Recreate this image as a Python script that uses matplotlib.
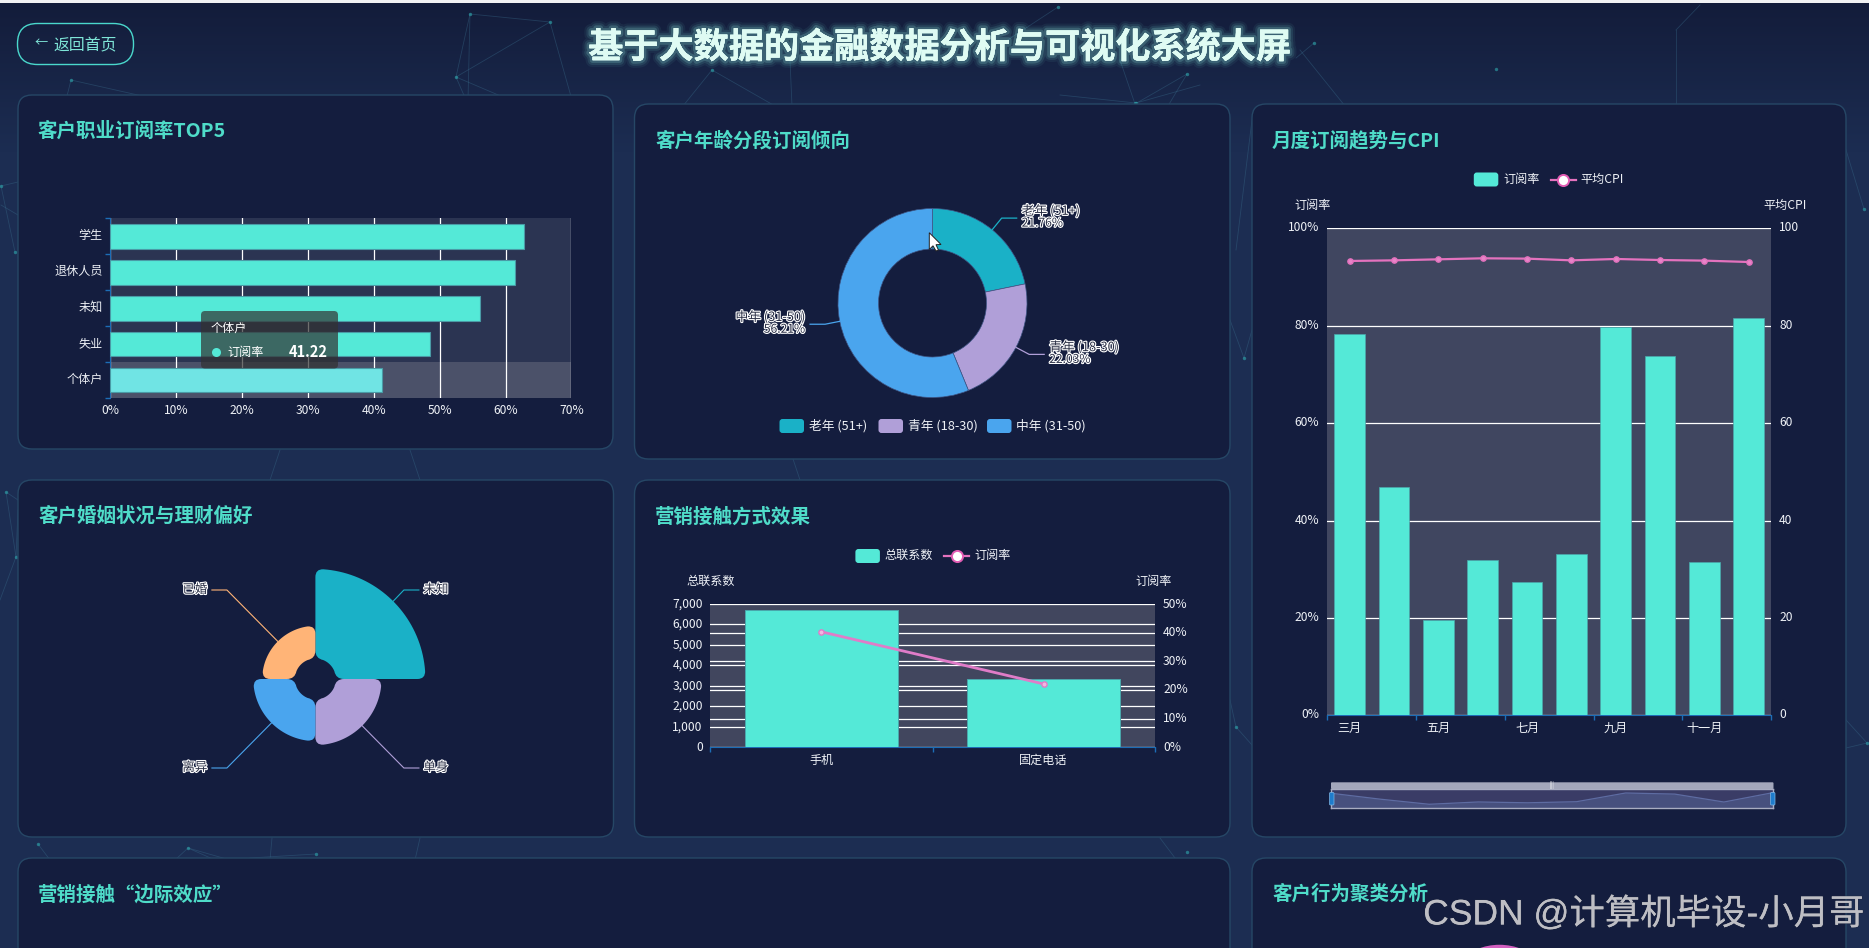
"""Finance big-screen dashboard, redrawn from a screenshot (pixel layout, y grows down)."""

import matplotlib

matplotlib.use("Agg")
import matplotlib.patheffects as pe
import matplotlib.pyplot as plt
import numpy as np
from matplotlib.patches import FancyBboxPatch, PathPatch, Polygon
from matplotlib.path import Path
from matplotlib.transforms import ScaledTranslation

plt.rcParams["font.family"] = ["Noto Sans CJK SC", "DejaVu Sans"]

W, H = 1869, 948

TEAL = "#54E9D7"
TITLE = "#4FDCC9"
PINK = "#E472BE"
AXIS_BLUE = "#1C6DB6"
TICK_TEXT = "#EEF1F6"
FS = 8.7

# job subscription rate
JOBS = ["学生", "退休人员", "未知", "失业", "个体户"]
JOB_RATE = [62.8, 61.5, 56.2, 48.5, 41.22]

# age donut
AGE_NAMES = ["老年 (51+)", "青年 (18-30)", "中年 (31-50)"]
AGE_SHARE = [21.76, 22.03, 56.21]
AGE_COLORS = ["#1AB1C7", "#B09FD8", "#4AA5EE"]

# marital rose
MARITAL = ["未知", "单身", "离异", "已婚"]
MARITAL_VALUE = [100, 51, 46.5, 36.5]
MARITAL_COLORS = ["#1AB1C7", "#B09FD8", "#4AA5EE", "#FFB477"]

# contact method
CONTACT = ["手机", "固定电话"]
CONTACT_TOTAL = [6690, 3320]
CONTACT_RATE = [40.3, 22.1]

# monthly trend
MONTHS = ["三月", "四月", "五月", "六月", "七月", "八月", "九月", "十月", "十一月", "十二月"]
MONTH_RATE = [78.3, 46.8, 19.5, 31.8, 27.4, 33.2, 79.7, 73.8, 31.5, 81.6]
MONTH_CPI = [93.29, 93.42, 93.63, 93.84, 93.77, 93.42, 93.70, 93.49, 93.36, 93.08]

# the one cluster bubble that shows above the bottom edge
CLUSTER_X = [41.6]
CLUSTER_Y = [56.5]

# backdrop network, (x0, y0, x1, y1) in screen pixels
NET_LINES = [
    (470, 14, 550, 22), (470, 14, 456, 77), (550, 22, 456, 77), (550, 22, 572, 100),
    (456, 77, 466, 100), (470, 14, 468, 100), (456, 77, 510, 100), (71, 80, 66, 100),
    (71, 80, 160, 100), (712, 70, 683, 106), (712, 70, 775, 106), (790, 60, 792, 106),
    (1187, 74, 1135, 104), (1187, 74, 1168, 106), (1300, 50, 1345, 106), (1135, 104, 1120, 60),
    (1314, 43, 1296, 58), (1058, 7, 1000, 45), (1676, 30, 1700, 5), (1676, 30, 1676, 106),
    (1, 186, 18, 182), (1, 186, 15, 252), (1, 205, 18, 215), (6, 492, 18, 500),
    (6, 492, 16, 557), (16, 557, 0, 600), (16, 557, 18, 510), (38, 844, 50, 860),
    (188, 848, 175, 860), (188, 848, 215, 860), (188, 848, 230, 860), (316, 854, 250, 858),
    (272, 838, 270, 860), (420, 838, 415, 860), (1160, 838, 1175, 858), (1846, 150, 1864, 209),
    (1846, 720, 1867, 743), (1846, 748, 1867, 743), (1244, 358, 1230, 320), (1244, 358, 1252, 330),
    (1236, 727, 1230, 700), (1236, 727, 1252, 745), (1136, 103, 1060, 95), (790, 450, 800, 480),
    (280, 450, 270, 480), (410, 450, 420, 480), (1136, 103, 1200, 85), (1252, 120, 1236, 250),
]
NET_NODES = [
    (470, 14), (550, 22), (456, 77), (712, 70), (1187, 74), (1135, 103), (1496, 69), (1314, 43),
    (1058, 7), (71, 80), (1, 186), (15, 252), (6, 492), (16, 557), (38, 844), (188, 848),
    (316, 854), (1864, 209), (1867, 743), (1244, 358), (1236, 727), (1187, 852), (1136, 103),
]

fig = plt.figure(figsize=(W / 100, H / 100), dpi=100)


def px_axes(x0, y0, x1, y1, zorder=2):
    ax = fig.add_axes([x0 / W, 1 - y1 / H, (x1 - x0) / W, (y1 - y0) / H], zorder=zorder)
    return ax


def screen_axes(zorder):
    ax = px_axes(0, 0, W, H, zorder)
    ax.set_xlim(0, W)
    ax.set_ylim(H, 0)
    ax.axis("off")
    ax.patch.set_alpha(0)
    return ax


def rounded(ax, x0, y0, x1, y1, radius, **kw):
    patch = FancyBboxPatch(
        (x0, y0), x1 - x0, y1 - y0,
        boxstyle=f"round,pad=0,rounding_size={radius}", **kw,
    )
    ax.add_patch(patch)
    return patch


def lift_labels(ax, pixels=2):
    # tick text sits a little above its gridline in the screenshot
    shift = ScaledTranslation(0, pixels / 100, fig.dpi_scale_trans)
    for label in ax.get_yticklabels():
        label.set_transform(label.get_transform() + shift)


back = screen_axes(0)
top_color = np.array([0x13, 0x1C, 0x3A]) / 255
low_color = np.array([0x1C, 0x2D, 0x52]) / 255
mix = np.clip(np.linspace(0, 1, H) / 0.16, 0, 1)[:, None]
back.imshow(
    (top_color * (1 - mix) + low_color * mix)[:, None, :],
    extent=(0, W, H, 0), aspect="auto", zorder=0,
)
back.set_xlim(0, W)
back.set_ylim(H, 0)
for x0, y0, x1, y1 in NET_LINES:
    back.plot([x0, x1], [y0, y1], color="#3A6F8E", lw=0.6, alpha=0.38, zorder=1)
back.scatter(*zip(*NET_NODES), s=6, color="#2FA9AE", alpha=0.6, lw=0, zorder=1)
back.fill_between([0, W], 0, 3.3, color="#F1F1F3", lw=0, zorder=1)

CARDS = [
    (18, 95, 613, 449), (634.5, 104, 1230, 459), (1252, 104, 1846, 837),
    (18, 480, 613.5, 837), (634.5, 480, 1230, 837), (18, 858, 1230, 980), (1252, 858, 1846, 980),
]
for card in CARDS:
    rounded(back, *card, 14, facecolor="#141D3E", edgecolor="#264766", lw=1, zorder=2)

over = screen_axes(10)


def card_title(x, y, text):
    over.text(x, y, text, color=TITLE, fontsize=14, fontweight="bold", va="center", ha="left")


def legend_swatch(x, y, text, color, size=FS):
    rounded(over, x, y - 7, x + 24.5, y + 7, 3, facecolor=color, edgecolor="none")
    over.text(x + 29.5, y - 0.5, text, color=TICK_TEXT, fontsize=size, va="center")


def legend_line(x, y, text):
    over.plot([x, x + 25], [y, y], color=PINK, lw=1.6)
    over.plot(x + 12.5, y, "o", ms=8, mfc="white", mec="#E25CB4", mew=1.4)
    over.text(x + 30, y - 1, text, color=TICK_TEXT, fontsize=FS, va="center")


def outlined(ax, x, y, text, ha, size=FS):
    ax.text(
        x, y, text, color="#2A2F45", fontsize=size, ha=ha, va="center",
        path_effects=[pe.withStroke(linewidth=1.6, foreground="white")],
    )


def style_axis(ax):
    ax.tick_params(which="both", colors=AXIS_BLUE, labelcolor=TICK_TEXT, labelsize=FS)
    ax.patch.set_alpha(1)
    for side in ("top", "left", "right", "bottom"):
        ax.spines[side].set_visible(False)


# page header
over.text(
    939.5, 47.5, "基于大数据的金融数据分析与可视化系统大屏",
    color="#DFFBF3", fontsize=25.3, fontweight="bold", ha="center", va="center",
    path_effects=[
        pe.withStroke(linewidth=10, foreground="#7FF5E5", alpha=0.06),
        pe.withStroke(linewidth=7, foreground="#7FF5E5", alpha=0.10),
        pe.withStroke(linewidth=4, foreground="#9FF8EC", alpha=0.18),
        pe.Normal(),
    ],
)
rounded(over, 17.5, 23.5, 133.5, 64.5, 20, facecolor="none", edgecolor="#4AD8CC", lw=1)
over.text(41, 44, "←", color="#7FE6D8", fontsize=9.5, ha="center", va="center")
over.text(54, 45, "返回首页", color="#7FE6D8", fontsize=11.4, va="center")

# job bars
card_title(37.5, 131, "客户职业订阅率TOP5")
ax = px_axes(110.2, 218.3, 571.4, 398)
style_axis(ax)
ax.set_facecolor("#2B3452")
ax.axhspan(3.5, 4.5, color="#4B5169", lw=0, zorder=0.5)
ax.barh(range(len(JOBS)), JOB_RATE, height=0.69, color=TEAL, edgecolor="#4A9BA6", lw=0.8, zorder=3)
ax.patches[-1].set_facecolor("#70E4E4")
ax.set_xlim(0, 70)
ax.set_ylim(4.5, -0.5)
ax.set_xticks(range(0, 71, 10), [f"{v}%" for v in range(0, 71, 10)])
ax.set_yticks(range(len(JOBS)), JOBS)
ax.set_yticks(np.arange(-0.5, 5), minor=True)
ax.tick_params(axis="y", which="major", length=0, pad=5.3)
ax.tick_params(axis="y", which="minor", length=3.6, width=1)
ax.tick_params(axis="x", length=0, pad=4.6)
ax.grid(axis="x", color="white", lw=0.9, zorder=1)
ax.set_axisbelow(True)
ax.spines["left"].set_visible(True)
ax.spines["left"].set_color(AXIS_BLUE)
lift_labels(ax)

rounded(over, 201, 311, 338, 368.5, 4, facecolor="#323232", alpha=0.7, edgecolor="none")
over.text(211, 328, JOBS[-1], color="white", fontsize=FS, va="center")
over.plot(216, 352, "o", ms=6.5, color=TEAL, mew=0)
over.text(227, 352, "订阅率", color="white", fontsize=FS, va="center")
over.text(328, 352, f"{JOB_RATE[-1]:.2f}", color="white", fontsize=10.5, fontweight="bold", ha="right", va="center")

# age donut, axes units are screen pixels around the centre
card_title(655, 140.5, "客户年龄分段订阅倾向")
CX, CY, R_OUT, R_IN = 932.5, 303, 94.5, 54
ax = px_axes(640, 150, 1225, 410, zorder=3)
ax.pie(
    AGE_SHARE, colors=AGE_COLORS, radius=R_OUT, startangle=90, counterclock=False,
    wedgeprops={"width": R_OUT - R_IN, "edgecolor": "#3E5484", "lw": 0.5},
)
ax.set_xlim(640 - CX, 1225 - CX)
ax.set_ylim(CY - 410, CY - 150)
ax.set_aspect("auto")
ax.axis("off")
start = 0
for name, share, color in zip(AGE_NAMES, AGE_SHARE, AGE_COLORS):
    mid = (start + share / 2) / 100 * 2 * np.pi
    start += share
    sx, sy = np.sin(mid), np.cos(mid)
    side = 1 if sx > 0 else -1
    ex, ey = (R_OUT + 15) * sx, (R_OUT + 15) * sy
    ax.plot([R_OUT * sx, ex, ex + 15 * side], [R_OUT * sy, ey, ey], color=color, lw=0.9)
    ha = "left" if side > 0 else "right"
    outlined(ax, ex + 20 * side, ey + 7, name, ha, 9.2)
    outlined(ax, ex + 20 * side, ey - 5, f"{share:.2f}%", ha)

legend_x = [779.5, 878.5, 987]
for name, color, x in zip(AGE_NAMES, AGE_COLORS, legend_x):
    legend_swatch(x, 426, name, color, 9.2)


# marital rose
def rose_path(r0, r1, a0, a1, c_out=8, c_in=8):
    def pt(r, a):
        return (r * np.sin(a), r * np.cos(a))

    verts, codes = [], []
    outer = np.linspace(a0 + c_out / r1, a1 - c_out / r1, 40)
    verts.append(pt(r1, outer[0]))
    codes.append(Path.MOVETO)
    for a in outer[1:]:
        verts.append(pt(r1, a))
        codes.append(Path.LINETO)
    verts += [pt(r1, a1), pt(r1 - c_out, a1)]
    codes += [Path.CURVE3, Path.CURVE3]
    verts.append(pt(r0 + c_in, a1))
    codes.append(Path.LINETO)
    verts += [pt(r0, a1), pt(r0, a1 - c_in / r0)]
    codes += [Path.CURVE3, Path.CURVE3]
    for a in np.linspace(a1 - c_in / r0, a0 + c_in / r0, 20)[1:]:
        verts.append(pt(r0, a))
        codes.append(Path.LINETO)
    verts += [pt(r0, a0), pt(r0 + c_in, a0)]
    codes += [Path.CURVE3, Path.CURVE3]
    verts.append(pt(r1 - c_out, a0))
    codes.append(Path.LINETO)
    verts += [pt(r1, a0), pt(r1, a0 + c_out / r1)]
    codes += [Path.CURVE3, Path.CURVE3]
    return Path(verts, codes)


card_title(38, 516.5, "客户婚姻状况与理财偏好")
RX, RY, ROSE_IN, ROSE_SPAN = 315.4, 679, 20.5, 89.5
ax = px_axes(120, 530, 520, 820, zorder=3)
ax.set_xlim(120 - RX, 520 - RX)
ax.set_ylim(RY - 820, RY - 530)
ax.axis("off")
for i, (name, value, color) in enumerate(zip(MARITAL, MARITAL_VALUE, MARITAL_COLORS)):
    a0, a1 = i * np.pi / 2, (i + 1) * np.pi / 2
    radius = ROSE_IN + value / max(MARITAL_VALUE) * ROSE_SPAN
    ax.add_patch(PathPatch(rose_path(ROSE_IN, radius, a0, a1), facecolor=color, edgecolor="none"))
    mid = (a0 + a1) / 2
    sx, sy = np.sign(np.sin(mid)), np.sign(np.cos(mid))
    ex, ey = 88.5 * sx, 89 * sy
    ax.plot(
        [radius * np.sin(mid), ex, ex + 15 * sx], [radius * np.cos(mid), ey, ey],
        color=color, lw=0.8,
    )
    outlined(ax, ex + 19.5 * sx, ey + 0.5, name, "left" if sx > 0 else "right", 9)

# contact method
card_title(655, 516.5, "营销接触方式效果")
legend_swatch(855.4, 556, "总联系数", TEAL)
legend_line(944.4, 556, "订阅率")
over.text(710.7, 581.7, "总联系数", color=TICK_TEXT, fontsize=FS, ha="center", va="center")
over.text(1154, 581.7, "订阅率", color=TICK_TEXT, fontsize=FS, ha="center", va="center")
ax = px_axes(710.3, 604, 1154.7, 747.3)
style_axis(ax)
ax.set_facecolor("#41465E")
ax.bar(range(2), CONTACT_TOTAL, width=0.69, color=TEAL, edgecolor="#49A8AC", lw=0.7, zorder=3)
ax.set_xlim(-0.5, 1.5)
ax.set_ylim(0, 7000)
ax.set_xticks(range(2), CONTACT)
ax.set_xticks([-0.5, 0.5, 1.5], minor=True)
ax.tick_params(axis="x", which="major", length=0, pad=4.5)
ax.tick_params(axis="x", which="minor", length=3.6, width=1)
ax.set_yticks(range(0, 7001, 1000), [f"{v:,}" for v in range(0, 7001, 1000)])
rate_ticks = list(range(0, 51, 10))
ax.set_yticks([v * 7000 / 50 for v in rate_ticks], minor=True)
ax.tick_params(axis="y", which="both", length=0, pad=5.5)
ax.grid(axis="y", which="both", color="white", lw=0.9, zorder=1)
ax.set_axisbelow(True)
ax.spines["bottom"].set_visible(True)
ax.spines["bottom"].set_color(AXIS_BLUE)
lift_labels(ax, 1.5)
right = ax.twinx()
style_axis(right)
right.patch.set_alpha(0)
right.plot(range(2), CONTACT_RATE, color="#E07CC8", lw=2, marker="o", ms=3.8, mfc="#F3B6DF", mec="#E07CC8")
right.set_ylim(0, 50)
right.set_yticks(rate_ticks, [f"{v}%" for v in rate_ticks])
right.tick_params(axis="y", length=0, pad=6)
lift_labels(right, 1.5)

# monthly trend
card_title(1272, 140.5, "月度订阅趋势与CPI")
legend_swatch(1473.8, 179.5, "订阅率", TEAL)
legend_line(1550.8, 180, "平均CPI")
over.text(1312.4, 205.7, "订阅率", color=TICK_TEXT, fontsize=FS, ha="center", va="center")
over.text(1785, 205.7, "平均CPI", color=TICK_TEXT, fontsize=FS, ha="center", va="center")
ax = px_axes(1327.4, 228.3, 1771, 715.3)
style_axis(ax)
ax.set_facecolor("#404660")
x = np.arange(len(MONTHS))
ax.bar(x, MONTH_RATE, width=0.694, color=TEAL, edgecolor="#4AA8AC", lw=0.5, zorder=3)
ax.set_xlim(-0.5, 9.5)
ax.set_ylim(0, 100)
ax.set_xticks(x[::2], MONTHS[::2])
ax.set_xticks(np.arange(-0.5, 10, 2), minor=True)
ax.tick_params(axis="x", which="major", length=0, pad=4.5)
ax.tick_params(axis="x", which="minor", length=3.6, width=1)
ax.set_yticks(range(0, 101, 20), [f"{v}%" for v in range(0, 101, 20)])
ax.tick_params(axis="y", length=0, pad=5.8)
ax.grid(axis="y", color="white", lw=0.9, zorder=1)
ax.set_axisbelow(True)
ax.spines["bottom"].set_visible(True)
ax.spines["bottom"].set_color(AXIS_BLUE)
lift_labels(ax)
right = ax.twinx()
style_axis(right)
right.patch.set_alpha(0)
right.plot(x, MONTH_CPI, color=PINK, lw=1.6, marker="o", ms=3.8, mfc="#E884C8", mec=PINK)
right.set_ylim(0, 100)
right.set_yticks(range(0, 101, 20))
right.tick_params(axis="y", length=0, pad=5.8)
lift_labels(right)

# month slider
ax = px_axes(1331, 789, 1773, 808.3)
ax.set_facecolor("#3A3C66")
ax.fill_between(x, MONTH_RATE, -2, color="#47507E", lw=0)
ax.plot(x, MONTH_RATE, color="#5E6CA2", lw=0.9)
ax.set_xlim(0, 9)
ax.set_ylim(-2, 101)
ax.set_xticks([])
ax.set_yticks([])
for spine in ax.spines.values():
    spine.set_color("#A9ADC2")
    spine.set_linewidth(1)
rounded(over, 1331, 782.3, 1773.5, 789, 1, facecolor="#A3A7BB", edgecolor="none")
over.text(1551.5, 785.4, "|||", color="white", fontsize=4.5, ha="center", va="center")
for hx in (1329.5, 1770.5):
    rounded(over, hx, 792.5, hx + 4.5, 805, 1, facecolor="#1F7CCB", edgecolor="#7DB6E6", lw=0.5)

# bottom row, cut off by the screenshot
card_title(38, 894.5, "营销接触“边际效应”")
card_title(1272, 894.5, "客户行为聚类分析")
ax = px_axes(1252, 900, 1846, 1140, zorder=3)
ax.scatter(CLUSTER_X, CLUSTER_Y, s=7400, color="#D25FBF", lw=0)
ax.set_xlim(0, 100)
ax.set_ylim(0, 100)
ax.axis("off")

# mouse pointer left on top of the donut
over.add_patch(Polygon(
    [(929.3, 232.7), (929.3, 249.5), (933, 245.8), (936, 251), (938.5, 250), (936, 244.7), (941, 244.5)],
    closed=True, facecolor="white", edgecolor="#222222", lw=0.7,
))

# watermark
over.text(
    1864, 914, "CSDN @计算机毕设-小月哥", color="#BEBEC4", fontsize=25.5, ha="right", va="center",
    family=["Liberation Sans", "Noto Sans CJK SC"],
    path_effects=[pe.withStroke(linewidth=1.2, foreground="#20283F", alpha=0.5), pe.Normal()],
)

fig.savefig("out.png", dpi=100)
